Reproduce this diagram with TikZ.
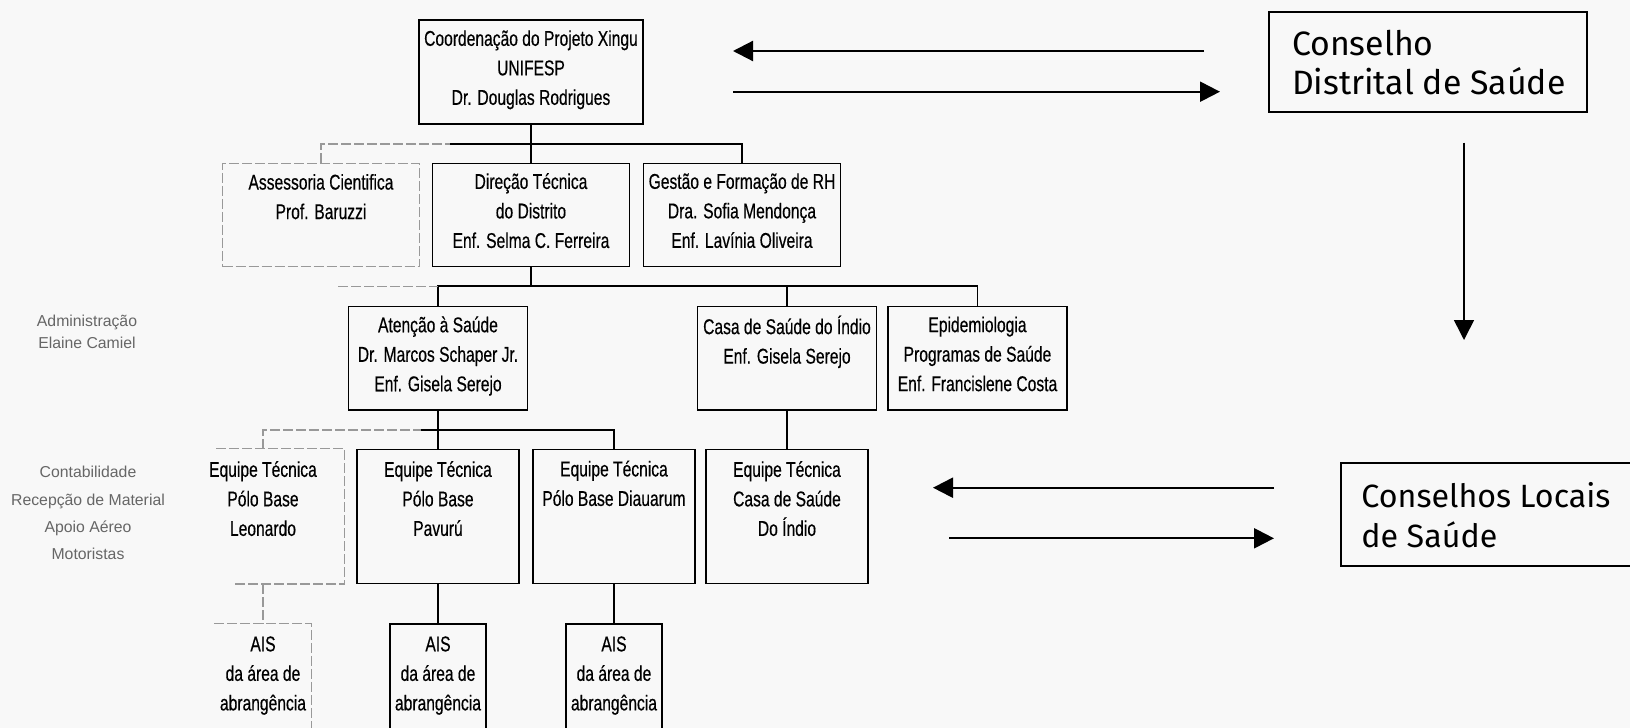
\documentclass[tikz,border=0pt]{standalone}
\usepackage{fontspec}
\setmainfont{Liberation Sans}
\newfontfamily\narrowfont[FakeStretch=0.73,FakeBold=0.4]{Liberation Sans}
\newfontfamily\comicfont{Fira Sans}
\usetikzlibrary{arrows.meta}
\definecolor{paper}{RGB}{248,248,248}
\newcommand\boxfont{\narrowfont\fontsize{10.7}{14.75}\selectfont}
\newcommand\cfontA{\comicfont\fontsize{16.9}{19.4}\selectfont}
\newcommand\cfontB{\comicfont\fontsize{16.1}{20}\selectfont}
\newcommand\sidefontA{\fontsize{7.9}{11.15}\selectfont}
\newcommand\sidefontB{\fontsize{7.9}{13.6}\selectfont}
\begin{document}
\begin{tikzpicture}[x=0.5pt,y=-0.5pt,
  box/.style={draw=black, line width=0.75pt, rectangle, inner sep=0pt, align=center,
    font=\boxfont, text=black, execute at begin node=\strut, execute at end node=\strut},
  stext/.style={inner sep=0pt, align=center, font=\boxfont, text=black,
    execute at begin node=\strut, execute at end node=\strut},
  faded/.style={draw=black!40, line width=0.7pt, dash pattern=on 5pt off 1.5pt},
  link/.style={draw=black, line width=0.75pt},
  arr/.style={line width=1.1pt, -{Triangle[length=10pt,width=10pt]}},
  varr/.style={line width=0.8pt, -{Triangle[length=10pt,width=10pt]}},
  council/.style={draw=black, line width=0.9pt, rectangle, inner sep=0pt},
  ctext/.style={inner sep=0pt, align=left, anchor=west, text=black},
  side/.style={inner sep=0pt, align=center, text=black!60}
]
\fill[paper] (0,0) rectangle (1630,728);
\useasboundingbox (0,0) rectangle (1630,728);

% ---------- row 1 ----------
\node[box, minimum width=112pt, minimum height=52pt] (coord) at (531,72)
  {Coordenação do Projeto Xingu\\UNIFESP\\Dr. Douglas Rodrigues};

% ---------- row 2 ----------
\node[box, faded, minimum width=98.5pt, minimum height=51.7pt] (assess) at (321,215) {};
\node[stext] (assesst) at (321,201) {Assessoria Cientifica\\Prof. Baruzzi};
\node[box, minimum width=98.5pt, minimum height=51.7pt] (direcao) at (531,215)
  {Direção Técnica\\do Distrito\\Enf. Selma C. Ferreira};
\node[box, minimum width=98.5pt, minimum height=51.7pt] (gestao) at (742,215)
  {Gestão e Formação de RH\\Dra. Sofia Mendonça\\Enf. Lavínia Oliveira};

\coordinate (b2) at (450,144);
\draw[faded] (assess.north) |- (b2);
\draw[link] (b2) -| (gestao.north);
\draw[link] (coord.south) -- (direcao.north);

% ---------- row 3 ----------
\node[box, minimum width=89.5pt, minimum height=51.65pt] (atencao) at (438,358.3)
  {Atenção à Saúde\\Dr. Marcos Schaper Jr.\\Enf. Gisela Serejo};
\node[box, minimum width=89.5pt, minimum height=51.65pt] (casa) at (787,358.3) {};
\node[stext] (casat) at (787,344) {Casa de Saúde do Índio\\Enf. Gisela Serejo};
\node[box, minimum width=89.5pt, minimum height=51.65pt] (epid) at (977.5,358.3)
  {Epidemiologia\\Programas de Saúde\\Enf. Francislene Costa};

\coordinate (j3) at (531,286.7);
\coordinate (x3) at (338,286.7);
\draw[link] (direcao.south) -- (j3);
\draw[link] (atencao.north) -- ++(0,-20) -| (epid.north);
\draw[link] (casa.north) -- ++(0,-20);
\draw[faded] (x3) -- (atencao.north |- x3);

% ---------- row 4 ----------
\node[box, draw=none, minimum width=81pt, minimum height=67pt] (leo) at (263,516.3) {};
\draw[faded] ([xshift=17.5pt]leo.north west) -- (leo.north east) -- (leo.south east) -- ([xshift=26pt]leo.south west);
\node[stext] (leot) at (263,502.9) {Equipe Técnica\\Pólo Base\\Leonardo};
\node[box, minimum width=81pt, minimum height=67pt] (pav) at (438,516.3) {};
\node[stext] (pavt) at (438,502.9) {Equipe Técnica\\Pólo Base\\Pavurú};
\node[box, minimum width=81pt, minimum height=67pt] (dia) at (614,516.3) {};
\node[stext] (diat) at (614,487.7) {Equipe Técnica\\Pólo Base Diauarum};
\node[box, minimum width=81pt, minimum height=67pt] (eqc) at (787,516.3) {};
\node[stext] (eqct) at (787,502.9) {Equipe Técnica\\Casa de Saúde\\Do Índio};

\coordinate (j4) at (421,430);
\draw[faded] (leo.north) |- (j4);
\draw[link] (j4) -| (dia.north);
\draw[link] (atencao.south) -- (pav.north);
\draw[link] (casa.south) -- (eqc.north);

% ---------- row 5 ----------
\node[box, draw=none, minimum width=48pt, minimum height=60pt] (ais1) at (263,684) {};
\draw[faded] (ais1.north west) -- (ais1.north east) -- (ais1.south east);
\node[stext] (ais1t) at (263,677.8) {AIS\\da área de\\abrangência};
\node[box, minimum width=48pt, minimum height=60pt] (ais2) at (438,684) {};
\node[stext] (ais2t) at (438,677.8) {AIS\\da área de\\abrangência};
\node[box, minimum width=48pt, minimum height=60pt] (ais3) at (614,684) {};
\node[stext] (ais3t) at (614,677.8) {AIS\\da área de\\abrangência};

\draw[faded] (leo.south) -- (ais1.north);
\draw[link] (pav.south) -- (ais2.north);
\draw[link] (dia.south) -- (ais3.north);

% ---------- left side ----------
\node[side, font=\sidefontA] (adm) at (87,332) {Administração\\Elaine Camiel};
\node[side, font=\sidefontB] (cont) at (88,513)
  {Contabilidade\\Recepção de Material\\Apoio Aéreo\\Motoristas};

% ---------- councils ----------
\node[council, minimum width=159pt, minimum height=50pt] (cds) at (1428,62) {};
\node[ctext, font=\cfontA] (cdst) at (1291.7,62.4) {Conselho\\Distrital de Saúde};
\node[council, anchor=north west, minimum width=170pt, minimum height=51.65pt] (cls) at (1340,461.7) {};
\node[ctext, font=\cfontB] (clst) at (1361,515) {Conselhos Locais\\de Saúde};

\coordinate (t1s) at (1204,51);
\coordinate (t1e) at (733,51);
\coordinate (t2s) at (733,91.7);
\coordinate (t2e) at (1220,91.7);
\draw[arr] (t1s) -- (t1e);
\draw[arr] (t2s) -- (t2e);

\coordinate (v1) at (1464,142.7);
\coordinate (v2) at (1464,340);
\draw[varr] (v1) -- (v2);

\coordinate (l1s) at (1274,487.7);
\coordinate (l1e) at (933,487.7);
\coordinate (l2s) at (949,538.3);
\coordinate (l2e) at (1274,538.3);
\draw[arr] (l1s) -- (l1e);
\draw[arr] (l2s) -- (l2e);
\end{tikzpicture}
\end{document}
